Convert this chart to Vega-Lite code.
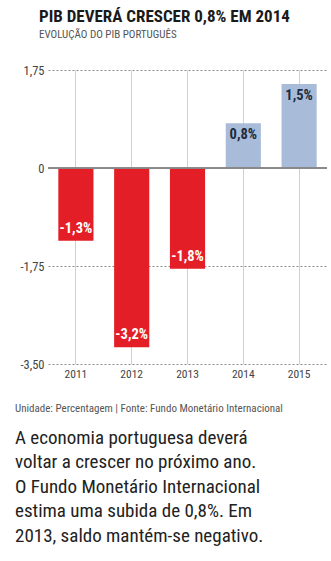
{
  "$schema": "https://vega.github.io/schema/vega-lite/v6.json",
  "background": "white",
  "padding": {"left": 15, "top": 8, "right": 4, "bottom": 10},
  "config": {"view": {"stroke": null}, "font": "Roboto Condensed, DejaVu Sans Condensed, Roboto"},
  "title": {
    "text": "PIB DEVERÁ CRESCER 0,8% EM 2014",
    "subtitle": "EVOLUÇÃO DO PIB PORTUGUÊS",
    "anchor": "start",
    "frame": "group",
    "dx": -9,
    "fontSize": 17,
    "fontWeight": "bold",
    "color": "#1a1a1a",
    "subtitleFontSize": 11,
    "subtitleColor": "#555555",
    "subtitlePadding": 3,
    "offset": 23
  },
  "vconcat": [
    {
      "width": 279,
      "height": 294,
      "title": {
        "text": "Unidade: Percentagem | Fonte: Fundo Monetário Internacional",
        "subtitle": [
          "A economia portuguesa deverá",
          "voltar a crescer no próximo ano.",
          "O Fundo Monetário Internacional",
          "estima uma subida de 0,8%. Em",
          "2013, saldo mantém-se negativo."
        ],
        "orient": "bottom",
        "anchor": "start",
        "frame": "group",
        "dx": -33,
        "fontSize": 11,
        "fontWeight": "normal",
        "color": "#555555",
        "subtitleFontSize": 19,
        "subtitleColor": "#222222",
        "subtitleLineHeight": 24.5,
        "subtitlePadding": 15,
        "offset": 23
      },
      "data": {
        "values": [
          {"ano": "2011", "v": -1.3},
          {"ano": "2012", "v": -3.2},
          {"ano": "2013", "v": -1.8},
          {"ano": "2014", "v": 0.8},
          {"ano": "2015", "v": 1.5}
        ]
      },
      "transform": [
        {"calculate": "(datum.v < 0 ? '-' : '') + replace(format(abs(datum.v), '.1f'), '.', ',') + '%'", "as": "label"}
      ],
      "encoding": {
        "x": {
          "field": "ano",
          "type": "ordinal",
          "scale": {"paddingInner": 0.37, "paddingOuter": 0.185},
          "axis": {
            "title": null,
            "domain": false,
            "ticks": false,
            "labelAngle": 0,
            "labelFontSize": 11.5,
            "labelColor": "#444444",
            "labelPadding": 4,
            "grid": true,
            "gridColor": "#d0d0d0",
            "gridWidth": 1
          }
        }
      },
      "layer": [
        {
          "mark": {"type": "bar"},
          "encoding": {
            "y": {
              "field": "v",
              "type": "quantitative",
              "scale": {"domain": [-3.5, 1.75], "nice": false},
              "axis": {
                "title": null,
                "domain": false,
                "ticks": false,
                "values": [-3.5, -1.75, 0, 1.75],
                "labelExpr": "datum.value == 0 ? '0' : (datum.value < 0 ? '-' : '') + replace(format(abs(datum.value), '.2f'), '.', ',')",
                "labelFontSize": 12.5,
                "labelColor": "#444444",
                "labelPadding": 4,
                "grid": true,
                "gridColor": "#888888",
                "gridDash": [2, 2],
                "gridWidth": 1
              }
            },
            "color": {
              "condition": {"test": "datum.v < 0", "value": "#e41e26"},
              "value": "#a8bcd9"
            }
          }
        },
        {
          "mark": {"type": "rule", "color": "#888888", "strokeWidth": 1.2},
          "encoding": {"y": {"datum": 0, "type": "quantitative"}, "x": {}}
        },
        {
          "transform": [{"filter": "datum.v < 0"}],
          "mark": {"type": "text", "fontSize": 14.5, "fontWeight": "bold", "color": "white", "baseline": "middle", "dy": -12},
          "encoding": {
            "y": {"field": "v", "type": "quantitative"},
            "text": {"field": "label"}
          }
        },
        {
          "transform": [{"filter": "datum.v >= 0"}],
          "mark": {"type": "text", "fontSize": 14.5, "fontWeight": "bold", "color": "#1c2b40", "baseline": "middle", "dy": 12},
          "encoding": {
            "y": {"field": "v", "type": "quantitative"},
            "text": {"field": "label"}
          }
        }
      ]
    }
  ]
}
